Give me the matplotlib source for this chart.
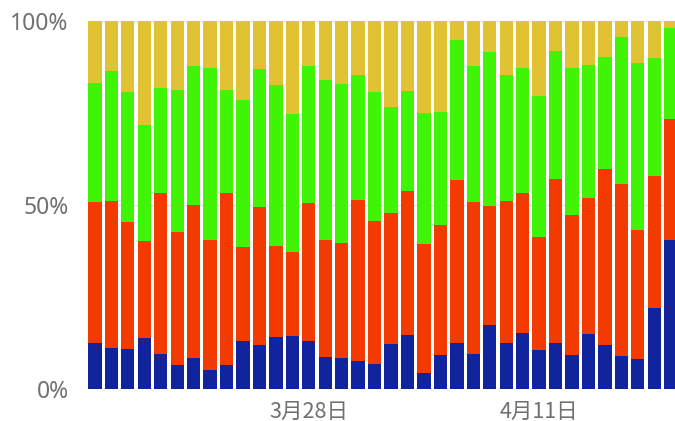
import numpy as np
import pandas as pd
import matplotlib
matplotlib.use('Agg')
import matplotlib.pyplot as plt

# daily share (%) of each series, 3/15 .. 4/19
dates = pd.date_range('2020-03-15', '2020-04-19', freq='D')
blue = [12.5, 11.3, 10.9, 14.0, 9.6, 6.6, 8.5, 5.2, 6.6, 13.0, 11.9, 14.1,
        14.5, 13.2, 8.9, 8.4, 7.7, 6.9, 12.2, 14.8, 4.3, 9.3, 12.5, 9.6,
        17.4, 12.6, 15.2, 10.7, 12.6, 9.2, 14.9, 11.9, 9.0, 8.1, 22.1, 40.4]
red = [38.4, 39.8, 34.5, 26.3, 43.8, 36.0, 41.4, 35.3, 46.6, 25.5, 37.5, 24.8,
       22.9, 37.3, 31.6, 31.2, 43.7, 38.8, 35.6, 39.1, 35.2, 35.2, 44.2, 41.3,
       32.4, 38.5, 38.0, 30.7, 44.6, 38.1, 37.1, 48.0, 46.7, 35.2, 35.9, 33.1]
green = [32.2, 35.4, 35.4, 31.5, 28.4, 38.7, 37.9, 46.8, 28.1, 40.1, 37.6, 43.7,
         37.3, 37.3, 43.4, 43.3, 33.9, 35.1, 28.8, 27.1, 35.4, 30.9, 38.1, 36.9,
         41.8, 34.2, 34.1, 38.3, 34.7, 39.9, 36.1, 30.4, 40.0, 45.3, 32.0, 24.5]
yellow = [100 - b - r - g for b, r, g in zip(blue, red, green)]

series = [blue, red, green, yellow]
colors = ['#12239E', '#F33A00', '#3FF404', '#E1C233']

fig = plt.figure(figsize=(6.75, 4.21), dpi=100)
ax = fig.add_axes([88 / 675, 0.0753, 1 - 88 / 675, 0.875])

x = np.arange(len(dates))
bottom = np.zeros(len(dates))
for vals, c in zip(series, colors):
    ax.bar(x, vals, width=0.81, bottom=bottom, color=c, zorder=2)
    bottom += np.array(vals)

ax.set_xlim(-0.42, 35.26)
ax.set_ylim(0, 100)

ax.set_yticks([0, 50, 100])
ax.set_yticklabels(['0%', '50%', '100%'], family='Noto Sans', fontsize=16.5, color='#707070')
ax.grid(axis='y', color='#e6e6e6', linewidth=1, zorder=0)

tick_idx = [i for i, d in enumerate(dates) if (d - pd.Timestamp('2020-03-28')).days % 14 == 0]
ax.set_xticks(tick_idx)
ax.set_xticklabels([f'{d.month}月{d.day}日' for d in dates[tick_idx]],
                   family=['Noto Sans CJK SC', 'DejaVu Sans'], fontsize=15.5, color='#707070')

ax.tick_params(axis='y', length=0, pad=14)
ax.tick_params(axis='x', length=0, pad=8)
for s in ax.spines.values():
    s.set_visible(False)

fig.savefig('out.png', dpi=100)
